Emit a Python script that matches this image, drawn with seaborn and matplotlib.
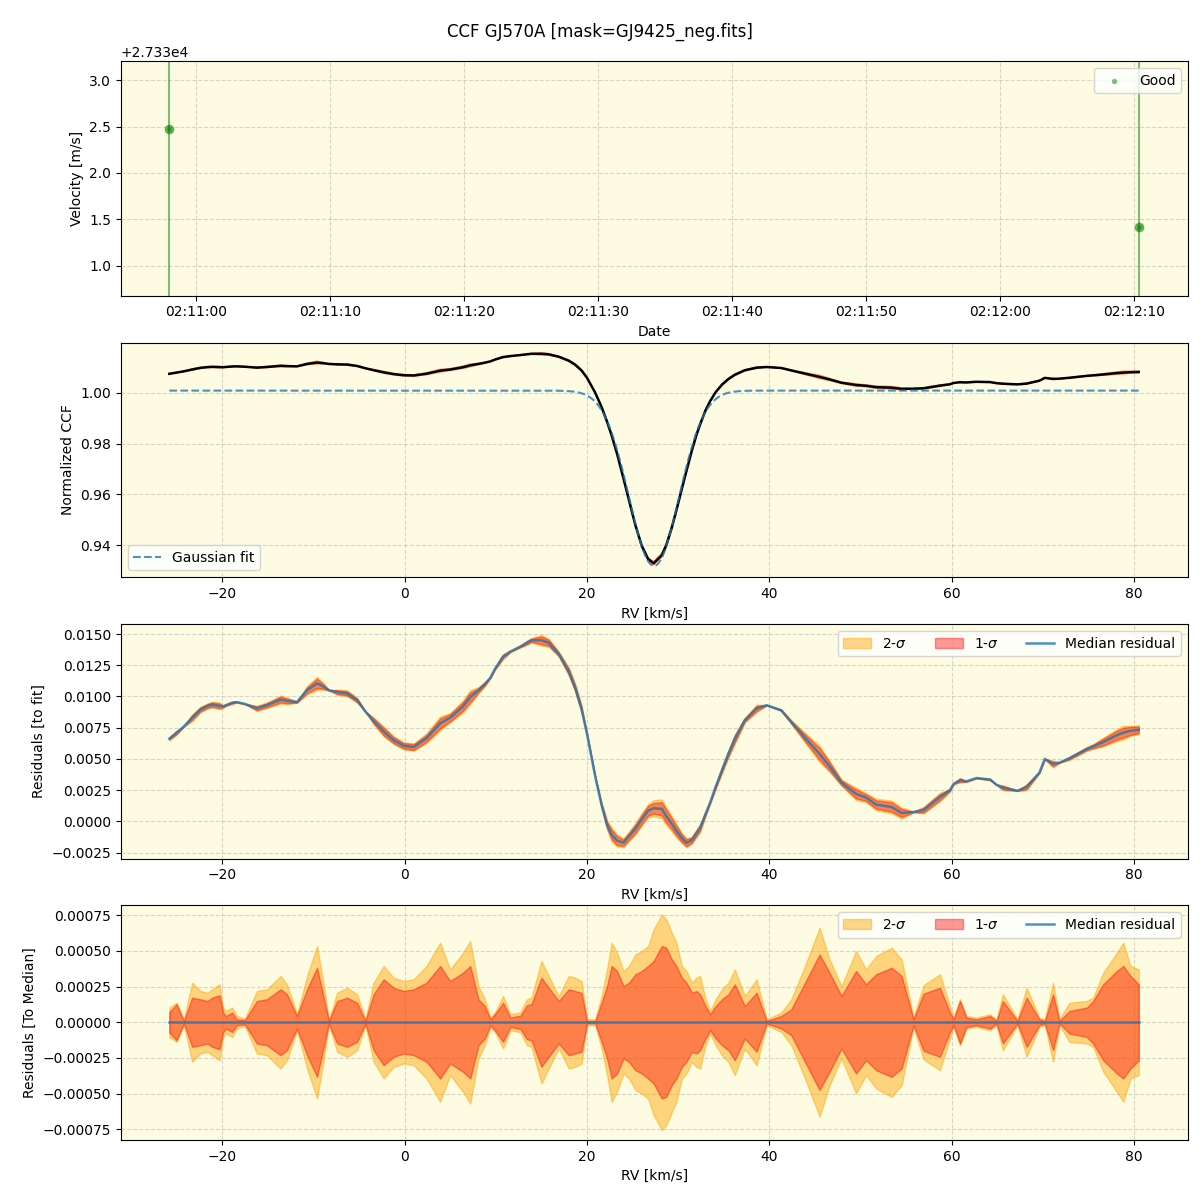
import numpy as np
import pandas as pd
import matplotlib
matplotlib.use("Agg")
import matplotlib.pyplot as plt
import matplotlib.dates as mdates
import seaborn as sns

# ================= DATOS =================
titulo = "CCF GJ570A [mask=GJ9425_neg.fits]"

# Panel 1: velocidades por observacion
obs_time = pd.to_datetime(["2023-05-01 02:10:58.0", "2023-05-01 02:12:10.4"])
obs_vel = [27332.47, 27331.42]      # m/s
obs_err = [5.0, 5.0]                # m/s (barras enormes, salen del eje)

# Ajuste gaussiano del CCF
fit_base = 1.0009
fit_depth = 0.0691
fit_center = 27.35   # km/s
fit_sigma = 2.75     # km/s

# Rejilla RV [km/s]
rv = [-25.8, -25.0, -24.2, -23.3, -22.4, -21.6, -21.1, -20.3, -19.9, -19.6,
      -18.9, -18.4, -17.5, -16.2, -15.1, -13.6, -12.9, -11.8, -10.7, -9.6,
      -8.9, -8.3, -7.4, -6.3, -5.2, -4.3, -3.4, -2.3, -1.2, -0.1,
      1.0, 2.4, 3.9, 5.0, 6.4, 7.2, 8.1, 8.8, 9.4, 9.9,
      10.8, 11.6, 12.7, 13.4, 13.9, 15.0, 15.8, 16.9, 18.0, 18.7,
      19.4, 20.0, 20.9, 21.6, 22.2, 22.7, 23.3, 24.0, 24.6, 25.3,
      26.0, 26.7, 27.3, 28.2, 28.7, 29.3, 29.8, 30.4, 30.9, 31.5,
      32.0, 32.4, 33.0, 33.5, 34.1, 34.8, 35.5, 36.2, 37.3, 38.6,
      39.7, 41.3, 42.4, 43.9, 45.5, 46.6, 47.9, 49.5, 50.6, 51.7,
      53.4, 54.5, 55.8, 56.9, 58.7, 59.8, 60.2, 60.9, 61.6, 62.7,
      64.2, 64.9, 65.6, 67.2, 68.2, 69.6, 70.2, 71.1, 71.8, 72.9,
      74.8, 75.5, 76.6, 78.1, 78.8, 79.6, 80.5]

# Residuo mediano respecto al ajuste [x1e-3]
res_med = [6.62, 7.10, 7.60, 8.30, 8.95, 9.25, 9.35, 9.25, 9.20, 9.30,
           9.50, 9.55, 9.40, 9.05, 9.30, 9.75, 9.65, 9.55, 10.50, 11.05,
           10.80, 10.50, 10.35, 10.25, 9.70, 8.80, 8.05, 7.20, 6.50, 6.05,
           5.95, 6.65, 7.85, 8.30, 9.20, 9.95, 10.50, 11.00, 11.50, 12.20,
           13.20, 13.60, 14.00, 14.30, 14.50, 14.50, 14.30, 13.40, 12.00, 10.70,
           9.00, 7.00, 3.60, 1.30, -0.30, -1.05, -1.55, -1.70, -1.20, -0.60,
           0.15, 0.85, 1.05, 1.00, 0.40, -0.20, -0.75, -1.35, -1.72, -1.50,
           -0.95, -0.53, 0.60, 1.50, 2.75, 4.10, 5.40, 6.60, 8.10, 9.05,
           9.30, 8.90, 7.95, 6.70, 5.40, 4.40, 3.10, 2.20, 1.90, 1.35,
           1.15, 0.67, 0.75, 0.90, 1.95, 2.50, 3.00, 3.30, 3.20, 3.47,
           3.35, 2.93, 2.70, 2.45, 2.75, 3.90, 5.00, 4.60, 4.70, 5.05,
           5.80, 6.00, 6.35, 6.90, 7.10, 7.25, 7.33]

# Dispersion 1-sigma y 2-sigma respecto a la mediana [x1e-4]
sig1 = [0.72, 1.26, 0.09, 1.72, 1.61, 1.49, 1.72, 1.89, 0.70, 0.44,
        0.68, 0.21, 0.16, 1.49, 1.61, 2.31, 1.96, 0.44, 2.31, 3.82,
        1.84, 0.09, 1.49, 1.72, 1.37, 0.09, 1.96, 3.01, 2.42, 2.19,
        2.31, 2.77, 3.94, 2.89, 3.47, 3.94, 1.61, 1.14, 0.21, 0.56,
        1.37, 0.33, 0.47, 1.19, 1.26, 3.12, 2.42, 1.49, 2.31, 2.19,
        2.07, 0.09, 0.09, 1.37, 2.56, 3.94, 3.59, 2.54, 2.77, 3.36,
        3.59, 3.94, 4.29, 5.34, 5.22, 4.40, 3.94, 3.12, 2.77, 2.07,
        2.19, 1.96, 1.14, 0.56, 1.14, 1.61, 1.96, 2.66, 1.14, 2.07,
        0.09, 0.44, 0.91, 2.77, 4.75, 3.47, 1.84, 3.59, 2.66, 3.36,
        3.82, 3.24, 0.21, 2.00, 2.42, 0.68, 0.21, 1.49, 0.33, 0.21,
        0.44, 0.09, 1.49, 0.09, 1.72, 0.21, 0.09, 1.96, 0.09, 0.79,
        1.03, 1.49, 2.66, 3.59, 3.94, 3.24, 2.66]
sig2 = [1.03, 1.37, 0.21, 2.77, 2.19, 2.07, 2.31, 2.66, 1.05, 0.79,
        1.03, 0.44, 0.26, 2.19, 2.31, 3.24, 2.66, 0.56, 3.24, 5.34,
        2.77, 0.16, 2.07, 2.42, 1.96, 0.21, 2.77, 3.94, 3.12, 2.89,
        3.01, 3.94, 5.57, 3.70, 4.87, 5.69, 2.54, 1.61, 0.33, 0.68,
        1.84, 0.56, 0.70, 1.61, 1.72, 4.29, 3.24, 1.84, 3.24, 3.12,
        2.89, 0.21, 0.21, 1.84, 3.73, 5.57, 4.87, 3.59, 3.94, 4.75,
        4.99, 5.34, 6.50, 7.55, 7.20, 6.27, 5.57, 3.94, 3.59, 2.77,
        3.12, 3.24, 1.61, 0.79, 1.61, 2.31, 2.77, 3.70, 1.84, 3.01,
        0.21, 0.68, 1.61, 3.94, 6.62, 4.40, 2.54, 4.99, 3.70, 4.64,
        5.22, 4.40, 0.33, 2.60, 3.36, 1.14, 0.33, 1.61, 0.44, 0.33,
        0.56, 0.21, 1.96, 0.21, 2.42, 0.33, 0.21, 2.77, 0.21, 1.37,
        1.49, 1.72, 3.47, 4.87, 5.57, 3.94, 3.70]

# ================= PREPARACION =================
rv = np.array(rv)
res = np.array(res_med) * 1e-3
s1 = np.array(sig1) * 1e-4
s2 = np.array(sig2) * 1e-4

def gauss(x):
    return fit_base - fit_depth * np.exp(-0.5 * ((x - fit_center) / fit_sigma) ** 2)

ccf_med = gauss(rv) + res
rv_fit = np.linspace(rv.min(), rv.max(), 600)

bg = "#fdfbe2"

# ================= FIGURA =================
fig, axes = plt.subplots(4, 1, figsize=(12, 12), dpi=100)
fig.subplots_adjust(left=0.1008, right=0.99, top=0.949, bottom=0.05, hspace=0.2)
fig.suptitle(titulo, fontsize=12, y=0.981)

for ax in axes:
    ax.set_facecolor(bg)
    ax.grid(True, linestyle="--", alpha=0.5)
    ax.set_axisbelow(True)

# --- Panel 1: velocidad vs fecha ---
ax = axes[0]
ax.errorbar(obs_time, obs_vel, yerr=obs_err, fmt="o", color="green",
            alpha=0.5, ms=6, lw=1.5)
sns.scatterplot(x=obs_time, y=obs_vel, ax=ax, color="green", alpha=0.5,
                s=15, linewidth=0, label="Good")
ax.set_ylim(27330.676, 27333.205)
ax.xaxis.set_major_locator(mdates.SecondLocator(bysecond=range(0, 60, 10)))
ax.xaxis.set_major_formatter(mdates.DateFormatter("%H:%M:%S"))
ax.set_xlabel("Date")
ax.set_ylabel("Velocity [m/s]")
ax.legend(loc="upper right")

# --- Panel 2: CCF normalizado ---
ax = axes[1]
for signo in (1, -1):
    ax.plot(rv, ccf_med + signo * s2, color="orangered", alpha=0.6, lw=1)
sns.lineplot(x=rv, y=ccf_med, ax=ax, color="black", lw=1.8)
ax.plot(rv_fit, gauss(rv_fit), "--", color="C0", alpha=0.8, lw=1.5,
        label="Gaussian fit")
ax.set_ylim(0.9274, 1.0198)
ax.set_xlabel("RV [km/s]")
ax.set_ylabel("Normalized CCF")
ax.legend(loc="lower left")

# --- Panel 3: residuos respecto al ajuste ---
ax = axes[2]
ax.fill_between(rv, res - s2, res + s2, color="orange", alpha=0.45, label="2-$\\sigma$")
ax.fill_between(rv, res - s1, res + s1, color="red", alpha=0.4, label="1-$\\sigma$")
sns.lineplot(x=rv, y=res, ax=ax, color="C0", alpha=0.8, lw=1.8, label="Median residual")
ax.set_ylim(-0.00298, 0.0158)
ax.set_xlabel("RV [km/s]")
ax.set_ylabel("Residuals [to fit]")
ax.legend(loc="upper right", ncol=3)

# --- Panel 4: residuos respecto a la mediana ---
ax = axes[3]
ax.fill_between(rv, -s2, s2, color="orange", alpha=0.45, label="2-$\\sigma$")
ax.fill_between(rv, -s1, s1, color="red", alpha=0.4, label="1-$\\sigma$")
sns.lineplot(x=rv, y=np.zeros_like(rv), ax=ax, color="C0", alpha=0.8, lw=1.8,
             label="Median residual")
ax.set_ylim(-0.000825, 0.000818)
ax.set_xlabel("RV [km/s]")
ax.set_ylabel("Residuals [To Median]")
ax.legend(loc="upper right", ncol=3)

for ax in axes[1:]:
    ax.set_xlim(-31.1, 85.9)

plt.savefig("out.png", dpi=100)
